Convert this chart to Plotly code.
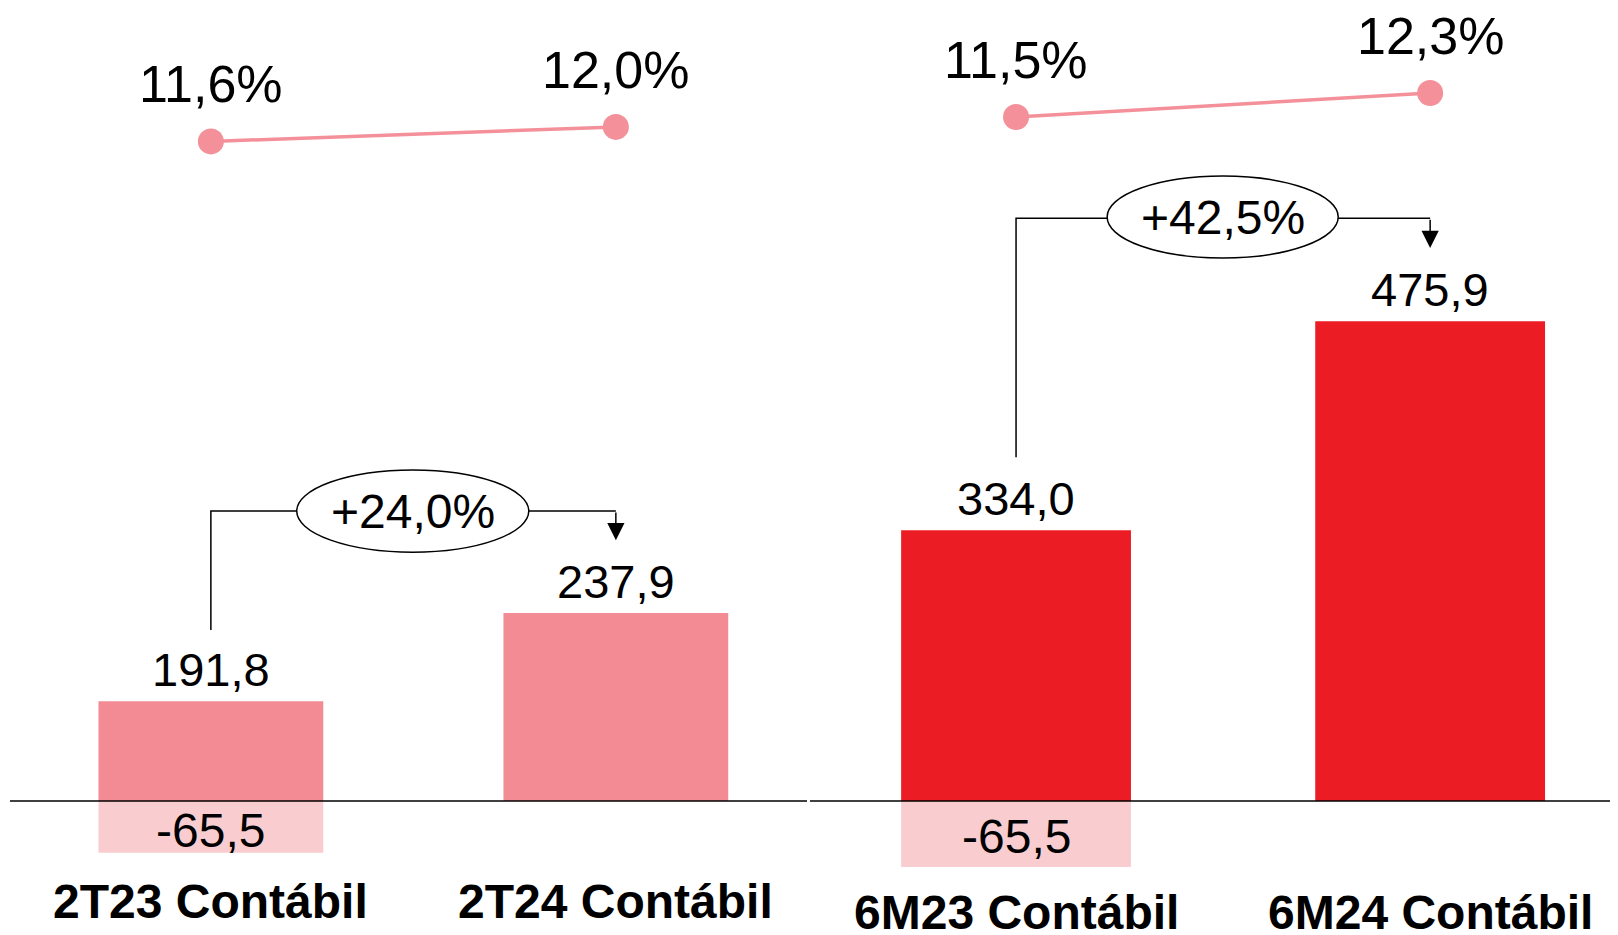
import plotly.graph_objects as go

# data
periodos_tri = ["2T23 Contábil", "2T24 Contábil"]
periodos_sem = ["6M23 Contábil", "6M24 Contábil"]
lucro_tri = [191.8, 237.9]
lucro_sem = [334.0, 475.9]
ajuste_tri = [-65.5, 0.0]
ajuste_sem = [-65.5, 0.0]
margem_tri = [11.6, 12.0]
margem_sem = [11.5, 12.3]
variacao_tri = "+24,0%"
variacao_sem = "+42,5%"

ROSA = "#F28B94"
VERMELHO = "#EC1C24"
ROSA_CLARO = "#F9CDD0"
LINHA = "#F4909A"
FONTE = "Liberation Sans, Arial, sans-serif"


def br(v, pct=False):
    s = f"{v:.1f}".replace(".", ",")
    return s + "%" if pct else s


W, H = 1618, 935
fig = go.Figure()

# the page puts the plot 8px in from the top-left corner
painel = [
    dict(cats=periodos_tri, lucro=lucro_tri, ajuste=ajuste_tri, margem=margem_tri,
         cor=ROSA, xa="x", yb="y", yl="y2", var=variacao_tri,
         nivel=367, base=216.5, ponta=330, elip=(0.212, 0.785, 315, 419), cat_y=0.0439,
         aj_shift=-4),
    dict(cats=periodos_sem, lucro=lucro_sem, ajuste=ajuste_sem, margem=margem_sem,
         cor=VERMELHO, xa="x2", yb="y3", yl="y4", var=variacao_sem,
         nivel=578, base=341, ponta=548.6, elip=(0.22, 0.778, 538.7, 620), cat_y=0.0321,
         aj_shift=-3),
]

shapes = []
annotations = []

for p in painel:
    xs = list(range(len(p["cats"])))
    acima = [l + a for l, a in zip(p["lucro"], p["ajuste"])]
    fig.add_trace(go.Bar(x=xs, y=acima, marker=dict(color=p["cor"], line=dict(width=0)),
                         width=0.555, xaxis=p["xa"], yaxis=p["yb"], hoverinfo="skip"))
    fig.add_trace(go.Bar(x=xs, y=p["ajuste"], marker=dict(color=ROSA_CLARO, line=dict(width=0)),
                         width=0.555, xaxis=p["xa"], yaxis=p["yb"], hoverinfo="skip"))
    fig.add_trace(go.Scatter(x=xs, y=p["margem"], mode="lines+markers",
                             line=dict(color=LINHA, width=3.5),
                             marker=dict(color=LINHA, size=26),
                             xaxis=p["xa"], yaxis=p["yl"], hoverinfo="skip"))

    # baseline
    shapes.append(dict(type="line", xref=p["xa"] + " domain", yref=p["yb"],
                       x0=0, x1=1, y0=0, y1=0, line=dict(color="black", width=1.5),
                       layer="above"))

    # bracket + ellipse
    shapes.append(dict(type="path", xref=p["xa"], yref=p["yb"],
                       path=f"M 0,{p['base']} L 0,{p['nivel']} L 1,{p['nivel']}",
                       line=dict(color="black", width=1.5)))
    ex0, ex1, ey0, ey1 = p["elip"]
    shapes.append(dict(type="circle", xref=p["xa"], yref=p["yb"],
                       x0=ex0, x1=ex1, y0=ey0, y1=ey1,
                       fillcolor="white", line=dict(color="black", width=1.5)))
    annotations.append(dict(x=1, y=p["ponta"], ax=1, ay=p["nivel"],
                            xref=p["xa"], yref=p["yb"], axref=p["xa"], ayref=p["yb"],
                            showarrow=True, arrowhead=2, arrowsize=2.3, arrowwidth=1.5,
                            arrowcolor="black", text=""))
    annotations.append(dict(x=(ex0 + ex1) / 2, y=(ey0 + ey1) / 2, xref=p["xa"], yref=p["yb"],
                            text=p["var"], showarrow=False,
                            font=dict(size=48, color="black", family=FONTE)))

    for i, cat in enumerate(p["cats"]):
        annotations.append(dict(x=i, y=acima[i], xref=p["xa"], yref=p["yb"],
                                text=br(p["lucro"][i]), showarrow=False,
                                yanchor="middle", yshift=32,
                                font=dict(size=47, color="black", family=FONTE)))
        if p["ajuste"][i] != 0:
            annotations.append(dict(x=i, y=p["ajuste"][i] / 2, xref=p["xa"], yref=p["yb"],
                                    text=br(p["ajuste"][i]), showarrow=False,
                                    yanchor="middle", yshift=p["aj_shift"],
                                    font=dict(size=48, color="black", family=FONTE)))
        annotations.append(dict(x=i, y=p["margem"][i], xref=p["xa"], yref=p["yl"],
                                text=br(p["margem"][i], pct=True), showarrow=False,
                                yanchor="middle", yshift=57,
                                font=dict(size=52, color="black", family=FONTE)))
        annotations.append(dict(x=i, y=p["cat_y"], xref=p["xa"], yref="paper",
                                text=f"<b>{cat}</b>", showarrow=False, yanchor="middle",
                                font=dict(size=48, color="black", family=FONTE)))

hidden = dict(visible=False, showgrid=False, zeroline=False, fixedrange=True)

fig.update_layout(
    width=W, height=H,
    margin=dict(l=0, r=0, t=0, b=0),
    paper_bgcolor="white", plot_bgcolor="white",
    barmode="relative", showlegend=False,
    xaxis=dict(hidden, domain=[2 / W, 799 / W], range=[-0.496, 1.472]),
    xaxis2=dict(hidden, domain=[802 / W, 1], range=[-0.4976, 1.473]),
    yaxis=dict(hidden, anchor="x", range=[-179.7, 1003.8]),
    yaxis2=dict(hidden, anchor="x", overlaying="y", range=[-10.54, 15.285]),
    yaxis3=dict(hidden, anchor="x2", range=[-140.9, 786.7]),
    yaxis4=dict(hidden, anchor="x2", overlaying="y3", range=[-16.03, 15.133]),
    shapes=shapes,
    annotations=annotations,
)

fig.write_html("out.html")
